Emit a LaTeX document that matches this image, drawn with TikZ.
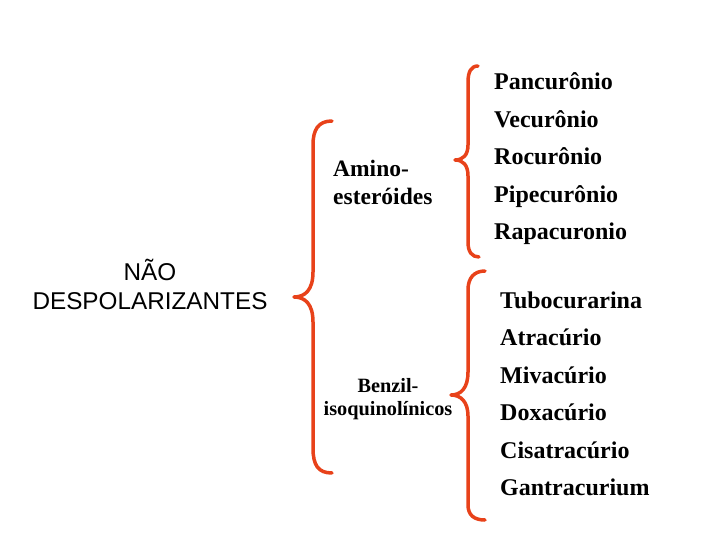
\documentclass[tikz,border=0pt]{standalone}
\usepackage{fontspec}
\setmainfont{Liberation Serif}
\newfontfamily\arialf{Liberation Sans}
\definecolor{braceRed}{RGB}{232,66,26}
\begin{document}
\begin{tikzpicture}[x=1bp,y=-1bp,
  brc/.style={draw=braceRed,line width=3.5bp,line cap=round,line join=round},
  item/.style={anchor=base west,inner sep=0,font=\fontsize{24bp}{26bp}\selectfont\bfseries},
  grp/.style={anchor=base west,inner sep=0,font=\fontsize{23.5bp}{26bp}\selectfont\bfseries},
  grps/.style={anchor=base,inner sep=0,font=\fontsize{20.3bp}{23bp}\selectfont\bfseries},
  top/.style={anchor=base,inner sep=0,font=\fontsize{24.3bp}{26bp}\selectfont\arialf}]
\useasboundingbox (0,0) rectangle (720,540);
% texts
\node[top] (nao1) at (150,281) {NÃO};
\node[top] (nao2) at (150,309) {DESPOLARIZANTES};
\node[grp] (am1) at (333,177) {Amino-};
\node[grp] (am2) at (333,205) {esteróides};
\node[grps] (bz1) at (388,392) {Benzil-};
\node[grps] (bz2) at (388,415) {isoquinolínicos};
\node[item] (p1) at (494,90) {Pancurônio};
\node[item] (p2) at (494,127.5) {Vecurônio};
\node[item] (p3) at (494,165) {Rocurônio};
\node[item] (p4) at (494,202.5) {Pipecurônio};
\node[item] (p5) at (494,240) {Rapacuronio};
\node[item] (b1) at (500,308) {Tubocurarina};
\node[item] (b2) at (500,345.5) {Atracúrio};
\node[item] (b3) at (500,383) {Mivacúrio};
\node[item] (b4) at (500,420.5) {Doxacúrio};
\node[item] (b5) at (500,458) {Cisatracúrio};
\node[item] (b6) at (500,495.5) {Gantracurium};
% big brace
\draw[brc] (332,121) .. controls (318,121) and (313,130) .. (313,145) -- (313,272)
  .. controls (313,290) and (305,297) .. (294,297)
  .. controls (305,297) and (313,304) .. (313,322) -- (313,448)
  .. controls (313,465) and (318,473) .. (332,473);
% amino brace
\draw[brc] (478,66) .. controls (471,66) and (468,72) .. (468,82) -- (468,145)
  .. controls (468,155) and (463,160) .. (455,160)
  .. controls (463,160) and (468,165) .. (468,176) -- (468,242)
  .. controls (468,252) and (472,257) .. (479,257);
% benzil brace
\draw[brc] (485,271) .. controls (474,271) and (468,278) .. (468,290) -- (468,372)
  .. controls (468,388) and (461,395) .. (451,395)
  .. controls (461,395) and (468,402) .. (468,416) -- (468,505)
  .. controls (468,515) and (474,520) .. (485,520);
\end{tikzpicture}
\end{document}
